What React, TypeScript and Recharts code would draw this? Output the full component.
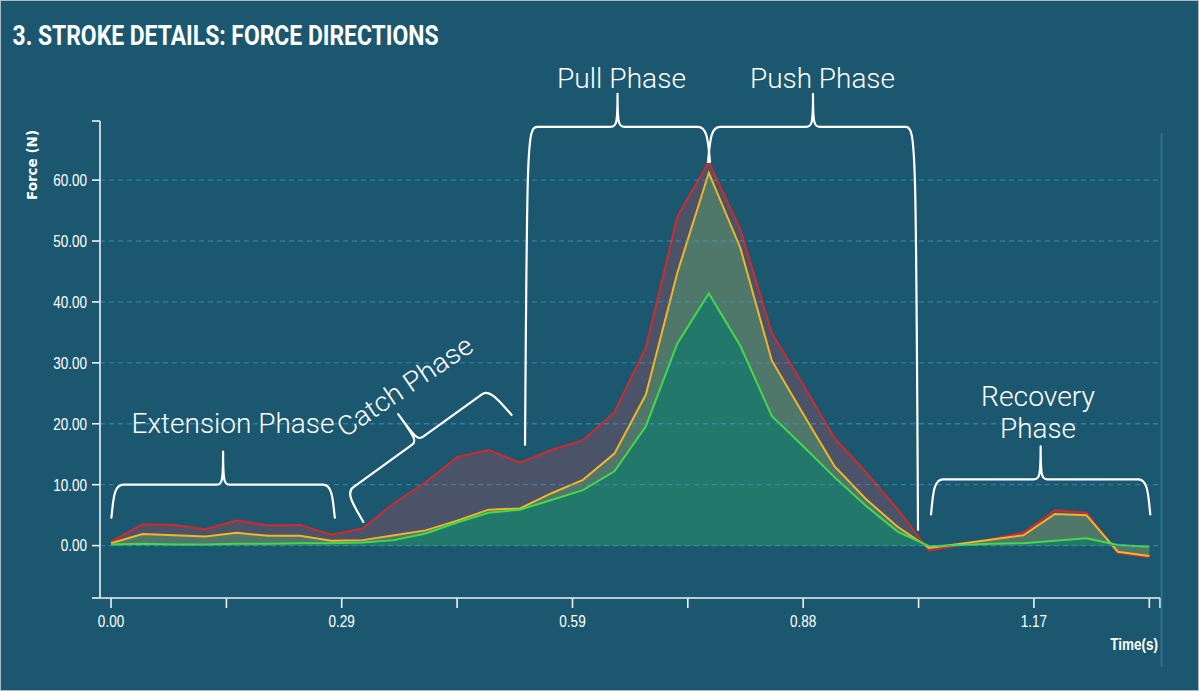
import React from 'react';
import { ComposedChart, Area, XAxis, YAxis, ReferenceLine, ReferenceDot, Label } from 'recharts';

// ---- data ----
const times = [0.0, 0.04, 0.08, 0.12, 0.16, 0.2, 0.24, 0.28, 0.32, 0.36, 0.4, 0.44, 0.48, 0.52, 0.56, 0.6, 0.64, 0.68, 0.72, 0.76, 0.8, 0.84, 0.88, 0.92, 0.96, 1.0, 1.04, 1.08, 1.12, 1.16, 1.2, 1.24, 1.28, 1.32];
const redForce = [0.6, 3.5, 3.4, 2.7, 4.1, 3.3, 3.4, 1.8, 2.8, 7.0, 10.4, 14.5, 15.7, 13.6, 15.7, 17.3, 21.9, 32.5, 54.0, 63.0, 51.9, 34.9, 26.4, 17.6, 12.0, 6.0, -0.8, 0.1, 1.1, 2.1, 5.8, 5.4, -1.2, -1.9];
const yellowForce = [0.4, 1.9, 1.7, 1.5, 2.1, 1.6, 1.6, 0.8, 0.9, 1.7, 2.5, 4.1, 5.9, 6.1, 8.6, 10.8, 15.1, 24.8, 44.8, 61.2, 48.9, 30.4, 21.6, 13.0, 7.6, 3.1, -0.4, 0.3, 1.0, 1.7, 5.2, 5.0, -1.0, -1.7];
const greenForce = [0.2, 0.3, 0.2, 0.2, 0.3, 0.3, 0.4, 0.4, 0.5, 0.9, 2.0, 3.8, 5.4, 5.9, 7.5, 9.1, 12.2, 19.6, 33.2, 41.4, 32.8, 21.3, 16.3, 11.2, 6.5, 2.3, -0.1, 0.1, 0.3, 0.4, 0.8, 1.2, 0.1, -0.2];

const X_MIN = -0.014;
const X_MAX = 1.3336;
const Y_MIN = -8.6;
const Y_MAX = 69.7;

const timeTicks = [0, 0.1467, 0.2933, 0.44, 0.5867, 0.7333, 0.88, 1.0267, 1.1733, 1.32, 1.3336];
const timeTickLabels = ['0.00', '', '0.29', '', '0.59', '', '0.88', '', '1.17', '', ''];
const forceTicks = [-8.6, 0, 10, 20, 30, 40, 50, 60, 69.7];
const forceTickLabels = ['', '0.00', '10.00', '20.00', '30.00', '40.00', '50.00', '60.00', ''];
const gridValues = [0, 10, 20, 30, 40, 50, 60];

// phase annotations (anchors in data units: [time, force])
const braceFrom = [[0.003, 10], [0.2975, 8.6], [0.5289, 68.75], [0.7615, 68.75], [1.045, 10.88]];
const braceTo = [[0.282, 10], [0.4818, 25.8], [0.759, 68.75], [1.0234, 68.75], [1.3187, 10.88]];
const braceHooks = [[33, 33], [34, 34], [318, 35], [35, 403], [35, 35]];

const phaseLabelText = [['Extension Phase'], ['Catch Phase'], ['Pull Phase'], ['Push Phase'], ['Recovery', 'Phase']];
const phaseLabelAt = [[0.1551, 18.48], [0.3801, 24.88], [0.649, 75.05], [0.9045, 75.05], [1.1785, 22.91]];
const phaseLabelAngle = [0, -34, 0, 0, 0];
const phaseLabelWidths = [[203], [157], [129], [145], [114, 76]];

const rows = times.map((t, i) => ({ t, red: redForce[i], yellow: yellowForce[i], green: greenForce[i] }));

// ---- styles ----
const BG = '#1b5870';
const AXIS = '#eef3f5';
const TICK_FONT = "'Liberation Sans', Arial, Helvetica, sans-serif";
const ANNO_FONT = "Roboto, 'Liberation Sans', Arial, sans-serif";

function bracePath(x1: number, y1: number, x2: number, y2: number, h1: number, h2: number, tip: number) {
  const dx = x2 - x1;
  const dy = y2 - y1;
  const L = Math.hypot(dx, dy);
  const ux = dx / L;
  const uy = dy / L;
  const nx = -uy;
  const ny = ux;
  const P = (u: number, w: number) => `${(x1 + ux * u + nx * w).toFixed(2)},${(y1 + uy * u + ny * w).toFixed(2)}`;
  const m = L / 2;
  const r = 10;
  return (
    `M${P(-2, h1)} C${P(0, Math.min(h1 * 0.5, 18))} ${P(0, 0)} ${P(r, 0)} ` +
    `L${P(m - 7, 0)} C${P(m - 1, 0)} ${P(m, -3)} ${P(m, -tip)} ` +
    `C${P(m, -3)} ${P(m + 1, 0)} ${P(m + 7, 0)} ` +
    `L${P(L - r, 0)} C${P(L, 0)} ${P(L, Math.min(h2 * 0.5, 18))} ${P(L + 2, h2)}`
  );
}

const NarrowTick = (props: any) => {
  const { x, y, payload, textAnchor, labels, ticks, dy } = props;
  const idx = ticks.indexOf(payload.value);
  const text = idx >= 0 ? labels[idx] : '';
  if (!text) return <g />;
  return (
    <text
      transform={`translate(${x},${y}) scale(0.82,1)`}
      textAnchor={textAnchor}
      dy={dy}
      fill="#ffffff"
      fontSize={16.5}
      fontFamily={TICK_FONT}
    >
      {text}
    </text>
  );
};

const ForceLabel = (props: any) => {
  const vb = props.viewBox || { x: 0, y: 121 };
  const cx = vb.x + 32;
  const cy = vb.y + 44;
  return (
    <text
      x={cx}
      y={cy}
      transform={`rotate(-90 ${cx} ${cy})`}
      textAnchor="middle"
      dominantBaseline="central"
      fill="#ffffff"
      fontSize={13.5}
      fontWeight={700}
      fontFamily="'DejaVu Sans', Verdana, sans-serif"
    >
      Force (N)
    </text>
  );
};

const TimeLabel = (props: any) => {
  const vb = props.viewBox || { x: 100, y: 598, width: 1060 };
  const x = vb.x + vb.width - 2;
  const y = vb.y + 52;
  return (
    <text
      transform={`translate(${x},${y}) scale(0.82,1)`}
      textAnchor="end"
      fill="#ffffff"
      fontSize={16.5}
      fontWeight={700}
      fontFamily={TICK_FONT}
    >
      Time(s)
    </text>
  );
};

export default function App() {
  return (
    <div
      style={{
        position: 'relative',
        width: 1199,
        height: 691,
        background: BG,
        boxShadow: 'inset 0 0 0 1px #a9bcc5',
        overflow: 'hidden',
      }}
    >
      <style>{'body{margin:0;}'}</style>
      <div style={{ position: 'absolute', left: 0, top: 0 }}>
        <ComposedChart width={1199} height={691} data={rows} margin={{ top: 121, right: 39, bottom: 63, left: 0 }}>
          <XAxis
            dataKey="t"
            type="number"
            domain={[X_MIN, X_MAX]}
            allowDataOverflow
            ticks={timeTicks}
            interval={0}
            height={30}
            tickSize={10}
            tickMargin={7}
            axisLine={{ stroke: AXIS, strokeWidth: 1.6 }}
            tickLine={{ stroke: AXIS, strokeWidth: 1.6 }}
            tick={(p: any) => <NarrowTick {...p} labels={timeTickLabels} ticks={timeTicks} dy="0.71em" />}
            label={<Label content={TimeLabel} />}
          />
          <YAxis
            type="number"
            domain={[Y_MIN, Y_MAX]}
            allowDataOverflow
            ticks={forceTicks}
            interval={0}
            width={100}
            tickSize={8}
            tickMargin={5}
            axisLine={{ stroke: AXIS, strokeWidth: 1.6 }}
            tickLine={{ stroke: AXIS, strokeWidth: 1.6 }}
            tick={(p: any) => <NarrowTick {...p} labels={forceTickLabels} ticks={forceTicks} dy="0.355em" />}
            label={<Label content={ForceLabel} />}
          />
          <Area
            type="linear"
            dataKey="red"
            baseValue={0}
            stroke="#d2292d"
            strokeWidth={2}
            fill="#4b5368"
            fillOpacity={1}
            dot={false}
            activeDot={false}
            isAnimationActive={false}
          />
          <Area
            type="linear"
            dataKey="yellow"
            baseValue={0}
            stroke="#f2b527"
            strokeWidth={2}
            fill="#4f786a"
            fillOpacity={1}
            dot={false}
            activeDot={false}
            isAnimationActive={false}
          />
          <Area
            type="linear"
            dataKey="green"
            baseValue={0}
            stroke="#44d94a"
            strokeWidth={2}
            fill="#21786b"
            fillOpacity={1}
            dot={false}
            activeDot={false}
            isAnimationActive={false}
          />
          {gridValues.map((v) => (
            <ReferenceLine
              key={`g${v}`}
              y={v}
              stroke="#3a9cc8"
              strokeOpacity={0.55}
              strokeWidth={1.3}
              strokeDasharray="5 4"
              ifOverflow="visible"
            />
          ))}
          {braceFrom.map((f, i) => (
            <ReferenceLine
              key={`b${i}`}
              segment={[
                { x: f[0], y: f[1] },
                { x: braceTo[i][0], y: braceTo[i][1] },
              ]}
              ifOverflow="visible"
              shape={(p: any) => (
                <path
                  d={bracePath(Number(p.x1), Number(p.y1), Number(p.x2), Number(p.y2), braceHooks[i][0], braceHooks[i][1], 33)}
                  fill="none"
                  stroke="#ffffff"
                  strokeWidth={2.2}
                  strokeLinecap="round"
                  strokeLinejoin="round"
                />
              )}
            />
          ))}
          {phaseLabelAt.map((a, i) => (
            <ReferenceDot
              key={`l${i}`}
              x={a[0]}
              y={a[1]}
              r={1}
              ifOverflow="visible"
              shape={(p: any) => (
                <g transform={`translate(${p.cx},${p.cy}) rotate(${phaseLabelAngle[i]})`}>
                  {phaseLabelText[i].map((s, k) => (
                    <text
                      key={k}
                      x={0}
                      y={k * 32.3}
                      textAnchor="middle"
                      fill="#ffffff"
                      fontSize={27}
                      fontWeight={300}
                      fontFamily={ANNO_FONT}
                      textLength={phaseLabelWidths[i][k]}
                      lengthAdjust="spacingAndGlyphs"
                    >
                      {s}
                    </text>
                  ))}
                </g>
              )}
            />
          ))}
        </ComposedChart>
      </div>
      <svg
        width={1199}
        height={691}
        style={{ position: 'absolute', left: 0, top: 0, pointerEvents: 'none' }}
      >
        <line x1={1161.5} y1={133} x2={1161.5} y2={667} stroke="#2a7896" strokeWidth={1.5} />
        <text
          x={12.5}
          y={45}
          fill="#ffffff"
          fontSize={28}
          fontWeight={700}
          fontFamily="Roboto, 'Liberation Sans', Arial, sans-serif"
          textLength={426}
          lengthAdjust="spacingAndGlyphs"
        >
          3. STROKE DETAILS: FORCE DIRECTIONS
        </text>
      </svg>
    </div>
  );
}
